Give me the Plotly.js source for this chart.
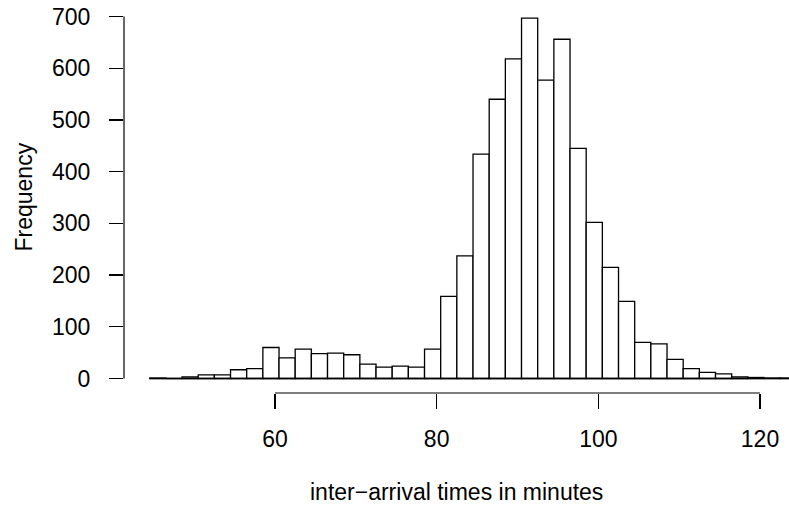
<!DOCTYPE html>
<html>
<head>
<meta charset="utf-8">
<script src="https://cdn.plot.ly/plotly-3.0.1.min.js"></script>
<style>html,body{margin:0;padding:0;background:#fff;}#chart{width:789px;height:510px;}</style>
</head>
<body>
<div id="chart"></div>
<script>
// Histogram bin breaks (minutes) and counts
var breaks = [44.5,46.5,48.5,50.5,52.5,54.5,56.5,58.5,60.5,62.5,64.5,66.5,68.5,70.5,72.5,74.5,76.5,78.5,80.5,82.5,84.5,86.5,88.5,90.5,92.5,94.5,96.5,98.5,100.5,102.5,104.5,106.5,108.5,110.5,112.5,114.5,116.5,118.5,120.5,122.5,124.5];
var counts = [1,0,3,7,7,17,19,60,40,57,48,49,46,28,22,24,22,57,159,237,434,540,618,697,577,656,445,302,215,149,70,67,37,19,12,9,3,2,1,1];
var xTicks = [60,80,100,120];
var yTicks = [0,100,200,300,400,500,600,700];
var xLabel = "inter\u2212arrival times in minutes";
var yLabel = "Frequency";

var mids = [], widths = [];
for (var i = 0; i < counts.length; i++) {
  mids.push((breaks[i] + breaks[i+1]) / 2);
  widths.push(breaks[i+1] - breaks[i]);
}

var font = {family: "Liberation Sans, Arial, Helvetica, sans-serif", size: 23, color: "#000"};

var trace = {
  type: "bar",
  x: mids,
  y: counts,
  width: widths,
  marker: {color: "#ffffff", line: {color: "#000", width: 1.3}},
  hoverinfo: "x+y"
};

var layout = {
  width: 789, height: 510,
  margin: {l: 124, r: 0, t: 2, b: 117, pad: 0},
  paper_bgcolor: "#fff", plot_bgcolor: "#fff",
  showlegend: false,
  font: font,
  xaxis: {
    range: [41.32, 123.59], showgrid: false, zeroline: false, showline: false,
    tickmode: "array", tickvals: xTicks, ticktext: xTicks.map(String),
    ticks: "outside", ticklen: 15, tickwidth: 1.2, tickcolor: "#000",
    ticklabelstandoff: 10, tickfont: font
  },
  yaxis: {
    range: [-28, 728], showgrid: false, zeroline: false, showline: false,
    tickmode: "array", tickvals: yTicks, ticktext: yTicks.map(String),
    ticks: "outside", ticklen: 14, tickwidth: 1.2, tickcolor: "#000",
    ticklabelstandoff: 14, tickfont: font
  },
  shapes: [
    {type: "line", xref: "x", yref: "paper", x0: xTicks[0], x1: xTicks[xTicks.length-1], y0: 0, y1: 0, line: {color: "#000", width: 1.2}},
    {type: "line", xref: "paper", yref: "y", x0: 0, x1: 0, y0: yTicks[0], y1: yTicks[yTicks.length-1], line: {color: "#000", width: 1.2}},
    {type: "line", xref: "x", yref: "y", x0: breaks[0], x1: breaks[breaks.length-1], y0: 0, y1: 0, line: {color: "#000", width: 1.3}, layer: "above"}
  ],
  annotations: [
    {text: xLabel, xref: "paper", yref: "paper", x: 0.5, y: 0, yshift: -99, showarrow: false, font: font, xanchor: "center", yanchor: "middle"},
    {text: yLabel, xref: "paper", yref: "paper", x: 0, xshift: -101, y: 0.5, showarrow: false, font: font, textangle: -90, xanchor: "center", yanchor: "middle"}
  ]
};

Plotly.newPlot("chart", [trace], layout, {displayModeBar: false, staticPlot: true});
</script>
</body>
</html>
